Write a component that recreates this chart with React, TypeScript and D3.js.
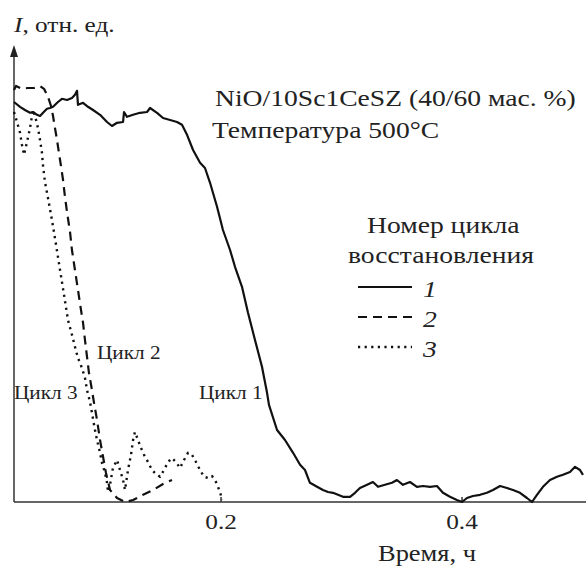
import React, { useEffect, useRef } from 'react';
import * as d3 from 'd3';

const width = 586;
const height = 568;
const font = '"Liberation Serif", "Times New Roman", serif';
const stretch = 'scale(1.15,1)';

// cycle 1 (solid): time, h / intensity, rel. units
const cycle1Time = [
  0.0286, 0.0336, 0.0377, 0.0419, 0.0444, 0.0477, 0.0502, 0.0527, 0.056, 0.0585, 0.061, 0.0651,
  0.0684, 0.0726, 0.0767, 0.0792, 0.0809, 0.0817, 0.0859, 0.09, 0.0942, 0.1, 0.1058, 0.1099,
  0.1141, 0.1191, 0.1199, 0.1224, 0.1274, 0.1332, 0.139, 0.1415, 0.1473, 0.1523, 0.1581, 0.1639,
  0.168, 0.1722, 0.1772, 0.183, 0.1871, 0.1913, 0.1971, 0.202, 0.2079, 0.212, 0.2178, 0.2228,
  0.2286, 0.2344, 0.2386, 0.2402, 0.2469, 0.2535, 0.2602, 0.266, 0.2701, 0.2742, 0.2801, 0.285,
  0.2892, 0.2933, 0.2975, 0.3016, 0.3075, 0.3116, 0.3157, 0.3216, 0.3265, 0.3307, 0.3365, 0.3423,
  0.3464, 0.3514, 0.3572, 0.363, 0.368, 0.3738, 0.3796, 0.3846, 0.3904, 0.3962, 0.4004, 0.4045,
  0.4095, 0.4154, 0.4211, 0.4261, 0.432, 0.4377, 0.4427, 0.4485, 0.4543, 0.4585, 0.4626, 0.4676,
  0.4734, 0.4792, 0.4842, 0.49, 0.4942, 0.4983, 0.5008,
];
const cycle1Int = [
  1.0, 0.988, 0.98, 0.973, 0.975, 0.968, 0.965, 0.973, 0.983, 0.985, 0.988, 1.0,
  1.008, 1.005, 1.01, 1.018, 1.028, 0.993, 0.998, 0.988, 0.98, 0.968, 0.95, 0.94,
  0.948, 0.95, 0.975, 0.963, 0.968, 0.973, 0.975, 0.985, 0.973, 0.96, 0.955, 0.95,
  0.943, 0.918, 0.88, 0.848, 0.835, 0.798, 0.738, 0.68, 0.63, 0.588, 0.538, 0.473,
  0.405, 0.338, 0.273, 0.243, 0.18, 0.155, 0.123, 0.093, 0.08, 0.048, 0.038, 0.03,
  0.025, 0.023, 0.018, 0.013, 0.013, 0.023, 0.035, 0.043, 0.05, 0.038, 0.043, 0.048,
  0.055, 0.043, 0.05, 0.038, 0.04, 0.038, 0.04, 0.023, 0.013, 0.005, 0.0, 0.01,
  0.015, 0.018, 0.023, 0.03, 0.04, 0.035, 0.03, 0.023, 0.01, 0.0, 0.018, 0.038,
  0.055, 0.063, 0.068, 0.075, 0.088, 0.08, 0.068,
];

// cycle 2 (dashed)
const cycle2Time = [
  0.0286, 0.0303, 0.0352, 0.0402, 0.0452, 0.0502, 0.0535, 0.0568, 0.0593, 0.061, 0.0626, 0.0643,
  0.0659, 0.0676, 0.0693, 0.0709, 0.0726, 0.0751, 0.0767, 0.0792, 0.0817, 0.0842, 0.0859, 0.0875,
  0.0892, 0.0908, 0.0933, 0.095, 0.0975, 0.1, 0.1025, 0.1049, 0.1083, 0.1141, 0.1207, 0.1274,
  0.1357, 0.144, 0.1523, 0.1597,
];
const cycle2Int = [
  1.03, 1.04, 1.033, 1.035, 1.035, 1.04, 1.033, 1.013, 0.99, 0.965, 0.935, 0.905,
  0.873, 0.84, 0.805, 0.763, 0.725, 0.675, 0.63, 0.58, 0.53, 0.48, 0.448, 0.405,
  0.363, 0.323, 0.28, 0.248, 0.205, 0.155, 0.113, 0.073, 0.03, 0.01, 0.0, 0.005,
  0.018, 0.03, 0.045, 0.055,
];

// cycle 3 (dotted)
const cycle3Time = [
  0.0286, 0.0311, 0.0336, 0.0352, 0.0369, 0.0394, 0.0419, 0.0444, 0.0469, 0.0485, 0.0502, 0.0518,
  0.0527, 0.0543, 0.0568, 0.0601, 0.0635, 0.0668, 0.0701, 0.0734, 0.0767, 0.0792, 0.0817, 0.085,
  0.0875, 0.0892, 0.0917, 0.0933, 0.0958, 0.0975, 0.1, 0.1016, 0.1041, 0.1058, 0.1066, 0.1083,
  0.1107, 0.1141, 0.1166, 0.1191, 0.1207, 0.1232, 0.1257, 0.1274, 0.129, 0.1315, 0.134, 0.1365,
  0.1398, 0.1431, 0.1464, 0.1498, 0.1531, 0.1564, 0.1597, 0.163, 0.1664, 0.1697, 0.173, 0.1763,
  0.1796, 0.183, 0.1863, 0.1896, 0.1929, 0.1962, 0.1996, 0.2012,
];
const cycle3Int = [
  0.975, 0.95, 0.923, 0.893, 0.868, 0.9, 0.935, 0.98, 0.955, 0.935, 0.905, 0.873,
  0.84, 0.8, 0.76, 0.705, 0.643, 0.58, 0.518, 0.455, 0.418, 0.388, 0.36, 0.335,
  0.31, 0.28, 0.25, 0.223, 0.18, 0.155, 0.123, 0.098, 0.073, 0.048, 0.025, 0.043,
  0.085, 0.105, 0.08, 0.055, 0.03, 0.08, 0.118, 0.155, 0.175, 0.155, 0.135, 0.118,
  0.1, 0.08, 0.07, 0.063, 0.08, 0.1, 0.11, 0.1, 0.085, 0.105, 0.123, 0.118,
  0.1, 0.08, 0.063, 0.06, 0.065, 0.05, 0.025, 0.005,
];

const xTicks = [0.2, 0.4];
const legendNumbers = ['1', '2', '3'];
const seriesDash = ['none', '9,6', '2.2,4.4'];
const cycleLabels = ['Цикл 1', 'Цикл 2', 'Цикл 3'];

const x = d3.scaleLinear().domain([0.0286, 0.5033]).range([14, 586]);
const y = d3.scaleLinear().domain([0, 1]).range([502, 102]);

const zip = (t: number[], v: number[]) => t.map((d, i) => [d, v[i]] as [number, number]);
const series = [zip(cycle1Time, cycle1Int), zip(cycle2Time, cycle2Int), zip(cycle3Time, cycle3Int)];

const line = d3
  .line<[number, number]>()
  .x((d) => x(d[0]))
  .y((d) => y(d[1]));

function Txt({ x0, y0, size, children, italic }: any) {
  return (
    <text
      transform={`translate(${x0},${y0}) ${stretch}`}
      fontSize={size}
      fontFamily={font}
      fontStyle={italic ? 'italic' : 'normal'}
      fill="#222"
    >
      {children}
    </text>
  );
}

export default function App() {
  const axisRef = useRef<SVGGElement>(null);

  useEffect(() => {
    const g = d3.select(axisRef.current);
    g.call(
      d3
        .axisBottom(x)
        .tickValues(xTicks)
        .tickFormat(d3.format('.1f'))
        .tickSizeInner(-5)
        .tickSizeOuter(0)
        .tickPadding(11)
    );
    g.select('.domain').remove();
    g.selectAll('line').attr('stroke', '#333').attr('stroke-width', 1.5);
    g.selectAll('text')
      .attr('font-size', 22)
      .attr('font-family', font)
      .attr('fill', '#222')
      .attr('transform', stretch);
  }, []);

  const y0 = y(0);
  const yTop = y(1.1425);

  return (
    <svg width={width} height={height} style={{ position: 'absolute', left: 0, top: 0, background: '#fff' }}>
      {/* axes */}
      <line x1={x.range()[0]} x2={x.range()[1]} y1={y0} y2={y0} stroke="#333" strokeWidth={1.5} />
      <line x1={14} x2={14} y1={y0} y2={yTop + 10} stroke="#333" strokeWidth={1.5} />
      <path d={`M14,${yTop} L18,${yTop + 12} L10,${yTop + 12} Z`} fill="#222" />
      <g ref={axisRef} transform={`translate(0,${y0})`} />

      {/* curves */}
      {series.map((s, i) => (
        <path
          key={i}
          d={line(s) || ''}
          fill="none"
          stroke="#111"
          strokeWidth={i === 2 ? 2.4 : 2.2}
          strokeDasharray={seriesDash[i]}
          strokeLinejoin="round"
        />
      ))}

      {/* texts */}
      <text transform={`translate(14,32) ${stretch}`} fontSize={22} fontFamily={font} fill="#222">
        <tspan fontStyle="italic">I</tspan>, отн. ед.
      </text>
      <Txt x0={215} y0={106} size={24}>NiO/10Sc1CeSZ (40/60 мас. %)</Txt>
      <Txt x0={212} y0={138} size={24}>Температура 500°C</Txt>
      <Txt x0={367} y0={233} size={24}>Номер цикла</Txt>
      <Txt x0={348} y0={263} size={24}>восстановления</Txt>
      {legendNumbers.map((n, i) => (
        <g key={n}>
          <line
            x1={358}
            x2={412}
            y1={287 + i * 30}
            y2={287 + i * 30}
            stroke="#111"
            strokeWidth={i === 2 ? 2.4 : 2.2}
            strokeDasharray={seriesDash[i]}
          />
          <Txt x0={423} y0={297 + i * 30} size={24} italic>
            {n}
          </Txt>
        </g>
      ))}
      <Txt x0={199} y0={399} size={18.5}>{cycleLabels[0]}</Txt>
      <Txt x0={97} y0={359} size={18.5}>{cycleLabels[1]}</Txt>
      <Txt x0={14} y0={399} size={18.5}>{cycleLabels[2]}</Txt>
      <Txt x0={378} y0={561} size={23}>Время, ч</Txt>
    </svg>
  );
}
